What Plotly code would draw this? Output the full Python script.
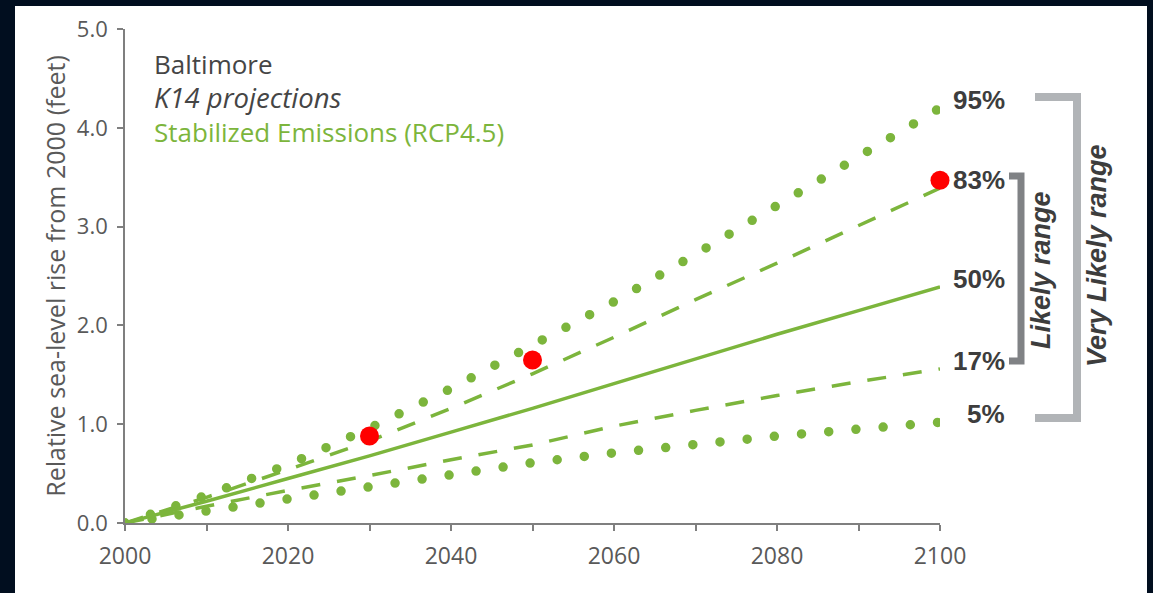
import plotly.graph_objects as go

# ---- data ----
years = [2000, 2010, 2020, 2030, 2040, 2050, 2060, 2070, 2080, 2090, 2100]
p95 = [0, 0.28, 0.59, 0.96, 1.36, 1.79, 2.24, 2.72, 3.22, 3.71, 4.20]
p83 = [0, 0.26, 0.54, 0.83, 1.16, 1.51, 1.88, 2.26, 2.63, 3.01, 3.39]
p50 = [0, 0.22, 0.45, 0.68, 0.92, 1.16, 1.41, 1.66, 1.91, 2.15, 2.39]
p17 = [0, 0.17, 0.33, 0.48, 0.64, 0.79, 0.98, 1.14, 1.29, 1.43, 1.56]
p05 = [0, 0.12, 0.24, 0.38, 0.49, 0.61, 0.71, 0.80, 0.88, 0.95, 1.02]
pct_labels = ["95%", "83%", "50%", "17%", "5%"]
red_years = [2030, 2050, 2100]
red_values = [0.88, 1.65, 3.47]
y_ticks = [0, 1, 2, 3, 4, 5]
x_ticks = [2000, 2020, 2040, 2060, 2080, 2100]

GREEN = "#7cb53c"
NAVY = "#010e1f"
TEXT = "#595959"
DARK = "#3d3d3d"

# layout geometry (pixels)
W, H = 1153, 593
L, R, T, B = 125, 213, 29, 70
PW = W - L - R
PH = H - T - B


def px(xp):
    return (xp - L) / PW


def py(yp):
    return (H - B - yp) / PH


fig = go.Figure()

dash = "19px,17px"
series = [
    (p95, dict(color=GREEN, width=9.5, dash="0px,26.85px")),
    (p05, dict(color=GREEN, width=9.5, dash="0px,27.3px")),
    (p83, dict(color=GREEN, width=3.5, dash=dash)),
    (p17, dict(color=GREEN, width=3.5, dash=dash)),
    (p50, dict(color=GREEN, width=3.5)),
]
for vals, line in series:
    fig.add_trace(go.Scatter(x=years, y=vals, mode="lines", line=line,
                             hoverinfo="skip", showlegend=False, cliponaxis=False))

fig.add_trace(go.Scatter(x=red_years, y=red_values, mode="markers",
                         marker=dict(color="#ff0000", size=19, line=dict(width=0)),
                         hoverinfo="skip", showlegend=False, cliponaxis=False))

# percentile labels near line ends
for lab, vals in zip(pct_labels, [p95, p83, p50, p17, p05]):
    fig.add_annotation(x=years[-1], y=vals[-1], xref="x", yref="y", text=lab,
                       showarrow=False, xanchor="right", yanchor="middle",
                       xshift=67, yshift=8,
                       font=dict(family="Liberation Sans, Arial", size=26,
                                 color=DARK, weight="bold"))

# title block (one multi-line text)
title_block = ("Baltimore<br>"
               "<span style='font-size:27.5px'><i>K14 projections</i></span><br>"
               f"<span style='color:{GREEN}'>Stabilized Emissions (RCP4.5)</span>")
fig.add_annotation(x=px(152), y=py(98), xref="paper", yref="paper", text=title_block,
                   showarrow=False, xanchor="left", yanchor="middle", align="left",
                   font=dict(family="Open Sans", size=26, color="#454545"))

# brackets
fig.add_shape(type="path", xref="paper", yref="paper",
              path=f"M {px(1009)} {py(176)} L {px(1021)} {py(176)} L {px(1021)} {py(361)} L {px(1009)} {py(361)}",
              line=dict(color="#808285", width=7))
fig.add_shape(type="path", xref="paper", yref="paper",
              path=f"M {px(1035)} {py(97)} L {px(1077)} {py(97)} L {px(1077)} {py(418)} L {px(1035)} {py(418)}",
              line=dict(color="#b1b4b7", width=8))

fig.add_annotation(x=px(1041), y=py(270), xref="paper", yref="paper", text="Likely range",
                   showarrow=False, textangle=-90, xanchor="center", yanchor="middle",
                   font=dict(family="Liberation Sans, Arial", size=27, color=DARK,
                             weight="bold", style="italic"))
fig.add_annotation(x=px(1097), y=py(256), xref="paper", yref="paper", text="Very Likely range",
                   showarrow=False, textangle=-90, xanchor="center", yanchor="middle",
                   font=dict(family="Liberation Sans, Arial", size=27, color=DARK,
                             weight="bold", style="italic"))

# white panel on navy background
fig.add_shape(type="rect", xref="paper", yref="paper", layer="below",
              x0=px(15), x1=px(1147), y0=py(600), y1=py(6),
              fillcolor="white", line=dict(width=0))

axis_common = dict(showline=True, linecolor="#7f7f7f", linewidth=1.6,
                   ticks="outside", ticklen=6, tickwidth=1.5, tickcolor="#7f7f7f",
                   showgrid=False, zeroline=False)

fig.update_layout(
    width=W, height=H,
    margin=dict(l=L, r=R, t=T, b=B),
    paper_bgcolor=NAVY, plot_bgcolor="rgba(0,0,0,0)",
    xaxis=dict(range=[2000, 2100], tickvals=x_ticks, ticktext=[str(v) for v in x_ticks],
               minor=dict(dtick=10, ticks="outside", ticklen=6, tickcolor="#7f7f7f", tickwidth=1.5),
               ticklabelstandoff=6,
               tickfont=dict(family="Open Sans", size=23, color=TEXT),
               **axis_common),
    yaxis=dict(range=[0, 5], tickvals=y_ticks, ticktext=[f"{v:.1f}" for v in y_ticks],
               ticklabelstandoff=5,
               tickfont=dict(family="Open Sans", size=22, color=TEXT),
               title=dict(text="Relative sea-level rise from 2000 (feet)", standoff=4,
                          font=dict(family="Open Sans", size=25, color=TEXT)),
               **axis_common),
)

post = """
var gd = document.getElementById('{plot_id}');
function fixCaps(){
  gd.querySelectorAll('path.js-line').forEach(function(p){
    var d = p.style.strokeDasharray || '';
    if (d.indexOf('0px') === 0) { p.style.strokeLinecap = 'round'; }
  });
}
fixCaps();
gd.on('plotly_afterplot', fixCaps);
"""

fig.write_html("out.html", post_script=post)
